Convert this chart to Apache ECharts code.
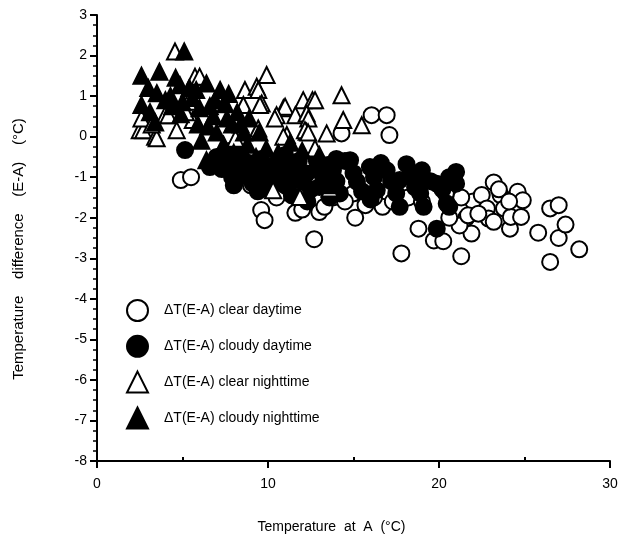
<!DOCTYPE html>
<html>
<head>
<meta charset="utf-8">
<script src="https://cdn.jsdelivr.net/npm/echarts@6/dist/echarts.min.js"></script>
<style>
html,body{margin:0;padding:0;background:#fff;}
#chart{width:621px;height:536px;}
</style>
</head>
<body>
<div id="chart"></div>
<script>
// ---- Data ----
var xTicks = [0, 10, 20, 30];
var yTicks = [-8, -7, -6, -5, -4, -3, -2, -1, 0, 1, 2, 3];

var seriesNames = [
  "\u0394T(E-A) clear daytime",
  "\u0394T(E-A) cloudy daytime",
  "\u0394T(E-A) clear nighttime",
  "\u0394T(E-A) cloudy nighttime"
];

var clearDay = [
  [4.9,-1.07],[5.5,-1.0],[6.8,-0.62],[8.3,-1.0],[9.6,-1.81],[9.8,-2.06],[11.6,-1.88],[12.0,-1.8],
  [12.7,-2.53],[13.0,-1.86],[13.3,-1.73],[15.1,-2.0],[15.0,-1.4],[15.7,-1.69],[16.7,-1.73],[17.8,-2.88],
  [18.8,-2.27],[19.7,-2.56],[20.25,-2.58],[21.3,-2.95],[21.6,-2.0],[21.9,-2.39],[22.0,-1.6],[22.5,-1.44],
  [22.8,-1.77],[22.9,-2.02],[23.2,-1.13],[23.6,-1.44],[23.8,-1.77],[24.15,-2.27],[24.6,-1.36],[24.9,-1.57],
  [24.2,-1.98],[24.8,-1.98],[25.8,-2.37],[26.5,-1.77],[27.0,-1.69],[27.0,-2.5],[27.4,-2.17],[28.2,-2.78],
  [26.5,-3.09],[16.06,0.53],[16.94,0.53],[17.1,0.04],[14.3,0.08],[21.2,-2.19],[21.7,-1.94],
  [10.5,-1.5],[11.3,-1.3],[12.2,-1.4],[13.8,-1.5],[14.5,-1.6],[16.2,-1.5],[17.3,-1.6],[18.2,-1.5],
  [19.0,-1.6],[20.6,-2.0],[21.3,-1.5],[22.3,-1.9],[23.2,-2.1],[23.5,-1.3],[24.1,-1.6],[20.4,-1.4],
  [9.0,-1.2],[10.0,-1.1]
];

var cloudyDay = [
  [5.15,-0.33],[7.0,-0.5],[7.3,-0.8],[7.6,-0.6],[7.9,-1.0],[8.2,-0.7],[8.4,-0.45],[8.6,-0.95],
  [8.9,-0.65],[9.1,-1.15],[9.3,-0.8],[9.6,-0.55],[9.8,-1.0],[10.0,-1.3],[10.2,-0.75],[10.4,-1.05],
  [10.6,-0.6],[10.8,-0.9],[11.0,-1.2],[11.2,-0.7],[11.4,-1.45],[11.6,-0.95],[11.8,-0.6],[12.0,-1.1],
  [12.26,-0.91],[12.5,-1.3],[12.85,-0.58],[13.0,-1.24],[13.2,-0.95],[13.5,-0.7],[13.8,-0.83],[14.0,-1.1],
  [14.2,-1.4],[14.5,-0.6],[14.8,-0.58],[15.0,-0.9],[15.2,-1.11],[15.5,-1.35],[15.96,-0.75],[16.2,-1.0],
  [16.36,-1.32],[16.6,-0.65],[16.94,-0.83],[17.2,-1.1],[17.5,-1.4],[17.7,-1.07],[17.7,-1.73],[18.1,-0.68],
  [18.3,-0.95],[18.6,-1.25],[18.9,-0.91],[18.9,-1.4],[19.1,-1.73],[19.0,-0.83],[19.5,-1.1],[19.87,-1.16],
  [19.87,-2.27],[20.2,-1.3],[20.45,-1.65],[20.6,-1.0],[20.9,-0.95],[21.0,-1.16],[20.6,-1.73],[21.0,-0.87],
  [12.3,-1.6],[13.6,-1.5],[16.0,-1.55],[9.4,-1.35],[8.0,-1.2],[6.6,-0.75],[7.8,-0.35],[11.0,-0.45],[14.0,-0.55]
];

var clearNight = [
  [4.56,2.1],[2.5,0.16],[2.7,0.16],[3.4,0.0],[3.49,-0.04],[4.66,0.16],[3.98,0.53],[4.17,0.53],
  [5.6,0.41],[5.73,1.48],[6.0,1.48],[2.6,0.45],[5.34,0.86],[9.92,1.52],[8.65,1.15],[9.34,1.23],
  [9.43,1.15],[9.63,0.82],[8.56,0.78],[9.53,0.78],[10.9,0.7],[11.0,0.74],[11.6,0.53],[10.5,0.53],
  [10.4,0.45],[12.06,0.9],[12.6,0.9],[12.75,0.9],[12.26,0.57],[12.36,0.45],[11.1,0.04],[10.9,0.0],
  [12.26,0.12],[12.16,0.16],[9.43,0.2],[14.3,1.02],[14.4,0.41],[15.48,0.28],[13.43,0.08],[12.35,0.1],
  [12.75,-0.29],[10.3,-1.32],[11.87,-1.49],[13.6,-1.28],[3.2,0.3],[5.2,0.6],[8.1,-0.05]
];

var cloudyNight = [
  [2.6,1.5],[3.65,1.6],[2.6,0.78],[3.5,1.07],[4.85,1.27],[5.1,2.1],[6.4,1.31],[7.2,1.15],
  [6.4,-0.58],[4.0,0.9],[5.6,0.95],[6.0,0.7],[6.8,0.5],[7.5,0.8],[7.9,0.3],[8.2,0.6],
  [8.6,0.1],[7.0,0.1],[6.5,0.25],[5.4,1.2],[4.4,0.75],[3.1,0.6],[8.8,-0.2],[9.3,-0.5],
  [9.9,-0.3],[10.6,-0.4],[11.3,-0.15],[12.0,-0.35],[13.0,-0.45],[8.0,-0.4],[7.4,-0.2],[6.1,-0.1],
  [5.9,0.3],[4.9,0.55],[3.4,0.35],[7.7,1.05],[6.9,0.9],[9.5,0.1],[10.1,-0.9],[11.9,-1.05],
  [12.6,-0.8],[13.5,-1.2],[4.3,1.0],[5.0,0.85],[5.8,1.15],[6.6,0.75],[7.6,0.45],[8.4,0.3],
  [8.9,0.45],[3.0,1.2],[4.6,1.45]
];

var xName = "Temperature  at  A  (\u00b0C)";
var yName = "Temperature    difference    (E-A)    (\u00b0C)";

// ---- Chart ----
var font = "'Liberation Sans', Arial, Helvetica, sans-serif";
var chart = echarts.init(document.getElementById('chart'), null, {renderer: 'canvas'});

function mkSeries(name, data, symbol, fill, size) {
  return {
    name: name,
    type: 'scatter',
    data: data,
    symbol: symbol,
    symbolSize: size,
    xAxisIndex: 0,
    yAxisIndex: 0,
    itemStyle: {color: fill, borderColor: '#000', borderWidth: 2, opacity: 1},
    emphasis: {disabled: true},
    animation: false
  };
}

var option = {
  backgroundColor: '#fff',
  animation: false,
  grid: {left: 97, right: 11, top: 15, bottom: 75, containLabel: false, outerBoundsMode: 'none'},
  legend: {
    orient: 'vertical',
    left: 126,
    top: 299,
    padding: 0,
    itemWidth: 21,
    itemHeight: 21,
    itemGap: 12.8,
    selectedMode: false,
    textStyle: {fontFamily: font, fontSize: 14, color: '#000', padding: [0, 0, 0, 11]},
    data: seriesNames
  },
  xAxis: [{
    type: 'value',
    min: xTicks[0], max: xTicks[xTicks.length - 1], interval: 10,
    position: 'bottom',
    splitLine: {show: false},
    axisLine: {show: true, onZero: false, lineStyle: {color: '#000', width: 2}},
    axisTick: {show: true, inside: false, length: 7, lineStyle: {color: '#000', width: 2}},
    axisLabel: {color: '#000', fontFamily: font, fontSize: 14, margin: 16},
    name: xName,
    nameLocation: 'middle',
    nameGap: 59,
    nameTextStyle: {color: '#000', fontFamily: font, fontSize: 14, padding: [0, 44, 0, 0]}
  }, {
    type: 'value',
    min: 0, max: 30, interval: 5,
    position: 'bottom',
    splitLine: {show: false},
    axisLine: {show: false, onZero: false},
    axisTick: {show: true, inside: true, length: 4, customValues: [5, 15, 25], lineStyle: {color: '#000', width: 2}},
    axisLabel: {show: false}
  }],
  yAxis: {
    type: 'value',
    min: yTicks[0], max: yTicks[yTicks.length - 1], interval: 1,
    splitLine: {show: false},
    axisLine: {show: true, onZero: false, lineStyle: {color: '#000', width: 2}},
    axisTick: {show: true, inside: false, length: 7, lineStyle: {color: '#000', width: 2}},
    minorTick: {show: true, splitNumber: 4, length: 4, lineStyle: {color: '#000', width: 1.5}},
    axisLabel: {color: '#000', fontFamily: font, fontSize: 14, margin: 10},
    name: yName,
    nameLocation: 'middle',
    nameGap: 71,
    nameTextStyle: {color: '#000', fontFamily: font, fontSize: 15, padding: [0, 22, 0, 0]}
  },
  series: [
    mkSeries(seriesNames[0], clearDay, 'circle', '#fff', 16),
    mkSeries(seriesNames[1], cloudyDay, 'circle', '#000', 16),
    mkSeries(seriesNames[2], clearNight, 'triangle', '#fff', 16),
    mkSeries(seriesNames[3], cloudyNight, 'triangle', '#000', 16)
  ]
};
chart.setOption(option);
</script>
</body>
</html>
